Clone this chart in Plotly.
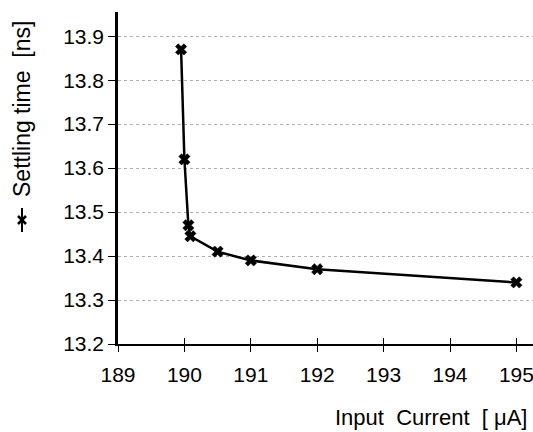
import plotly.graph_objects as go

# Settling time versus input current
input_current = [189.95, 190.0, 190.06, 190.09, 190.5, 191.0, 192.0, 195.0]
settling_time = [13.87, 13.62, 13.47, 13.445, 13.41, 13.39, 13.37, 13.34]

x_ticks = [189, 190, 191, 192, 193, 194, 195]
y_ticks = [13.2, 13.3, 13.4, 13.5, 13.6, 13.7, 13.8, 13.9]

FONT = "Liberation Sans, Arial, sans-serif"

fig = go.Figure()
fig.add_trace(go.Scatter(
    x=input_current, y=settling_time, mode="lines+markers",
    line=dict(color="black", width=2.5),
    marker=dict(symbol="x", size=10, color="black",
                line=dict(color="black", width=0.5)),
    showlegend=False,
))
# invisible trace on overlay axis to get ticks crossing the x-axis line
fig.add_trace(go.Scatter(x=[189, 195], y=[13.2, 13.2], xaxis="x2",
                         mode="markers", marker=dict(opacity=0),
                         hoverinfo="skip", showlegend=False))

fig.update_layout(
    width=533, height=432,
    margin=dict(l=118, r=0, t=12, b=88),
    paper_bgcolor="white", plot_bgcolor="white",
    font=dict(family=FONT, color="black", size=21),
    xaxis=dict(range=[189, 195.25], tickvals=x_ticks,
               ticktext=[str(v) for v in x_ticks],
               showgrid=False, zeroline=False,
               showline=True, linecolor="black", linewidth=2,
               ticks="outside", ticklen=6, tickwidth=1, tickcolor="black",
               ticklabeloverflow="allow", ticklabelstandoff=5,
               tickfont=dict(size=21)),
    xaxis2=dict(range=[189, 195.25], overlaying="x", tickvals=x_ticks,
                showticklabels=False, showgrid=False, zeroline=False,
                ticks="inside", ticklen=6, tickwidth=1, tickcolor="black",
                side="bottom", anchor="y"),
    yaxis=dict(range=[13.2, 13.955], tickvals=y_ticks,
               ticktext=[f"{v:.1f}" for v in y_ticks],
               showgrid=True, gridcolor="#b0b0b0", griddash="dot", gridwidth=1,
               zeroline=False,
               showline=True, linecolor="black", linewidth=2.5,
               ticks="outside", ticklen=7, tickwidth=1, tickcolor="black",
               tickfont=dict(size=21)),
)

plot_w = 533 - 118
plot_h = 432 - 12 - 88


def px_x(px):
    return (px - 118) / plot_w


def px_y(py):
    return (344 - py) / plot_h


# y-axis title with series symbol
fig.add_annotation(text="Settling time  [ns]", xref="paper", yref="paper",
                   x=px_x(22), y=px_y(109),
                   xanchor="center", yanchor="middle", textangle=-90,
                   showarrow=False, font=dict(size=23, family=FONT))
sym_x, sym_y = px_x(22), px_y(220)
fig.add_shape(type="line", xref="paper", yref="paper",
              xsizemode="pixel", ysizemode="pixel",
              xanchor=sym_x, yanchor=sym_y,
              x0=0, x1=0, y0=-12, y1=12,
              line=dict(color="black", width=2))
for dy in (1, -1):
    fig.add_shape(type="line", xref="paper", yref="paper",
                  xsizemode="pixel", ysizemode="pixel",
                  xanchor=sym_x, yanchor=sym_y,
                  x0=-4, x1=4, y0=-4 * dy, y1=4 * dy,
                  line=dict(color="black", width=2.5))

# x-axis title
fig.add_annotation(text="Input  Current  [ μA]", xref="paper", yref="paper",
                   x=px_x(528), y=px_y(417),
                   xanchor="right", yanchor="middle", showarrow=False,
                   borderpad=0,
                   font=dict(size=22, family=FONT))

fig.write_html("out.html")
